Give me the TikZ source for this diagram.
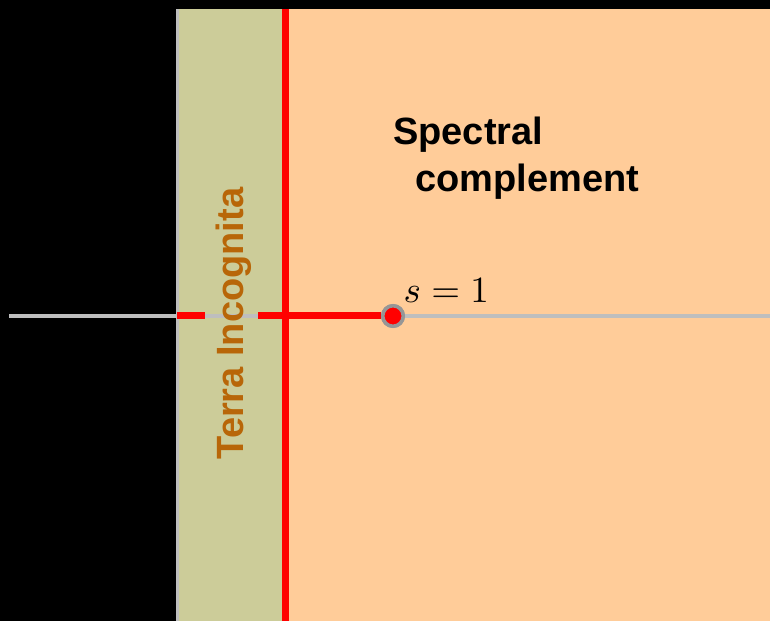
\documentclass[tikz,border=0pt]{standalone}
\usepackage{fontspec}
\newfontfamily\labelfont{Liberation Sans}
\definecolor{peach}{RGB}{255,204,153}
\definecolor{olive}{RGB}{204,204,153}
\definecolor{axisgray}{RGB}{190,190,190}
\definecolor{ringgray}{RGB}{150,150,150}
\definecolor{terrabrown}{RGB}{184,102,8}
\begin{document}
\begin{tikzpicture}[x=1pt,y=1pt,
  redline/.style={draw=red,line width=7pt},
  axisline/.style={draw=axisgray,line width=3.5pt},
  polemark/.style={circle,fill=red,draw=ringgray,line width=3.5pt,minimum size=20.5pt,inner sep=0pt},
  biglabel/.style={font=\labelfont\bfseries\fontsize{38}{46}\selectfont,inner sep=0pt}]
\useasboundingbox (0,0) rectangle (770,621);
\fill[black] (0,0) rectangle (770,621);
\fill[peach] (177,0) rectangle (770,612);
\fill[olive] (177,0) rectangle (285,612);
\draw[axisgray,line width=3pt] (177.5,0) -- (177.5,612);
% axis
\coordinate (axL) at (9,305);
\coordinate (axR) at (770,305);
\draw[axisline] (axL) -- (axR);
% critical line
\coordinate (cT) at (285.25,612);
\coordinate (cB) at (285.25,0);
\draw[draw=red,line width=7.5pt] (cT) -- (cB);
% red segments
\coordinate (d1a) at (177,305);
\coordinate (d1b) at (205,305);
\coordinate (d2a) at (258,305);
\node[polemark] (pole) at (393,305) {};
\draw[redline] (d1a) -- (d1b);
\draw[redline] (d2a) -- (pole.west);
\node[polemark] at (pole.center) {};
\node[anchor=base west,inner sep=0pt,scale=3.7] (slab) at (403,318) {$s=1$};
\node[biglabel,anchor=base west] (spec) at (393,476) {Spectral};
\node[biglabel,anchor=base west] (comp) at (415,429) {complement};
\node[biglabel,text=terrabrown,rotate=90,anchor=base] (terra) at (243,297.5) {Terra Incognita};
\end{tikzpicture}
\end{document}
